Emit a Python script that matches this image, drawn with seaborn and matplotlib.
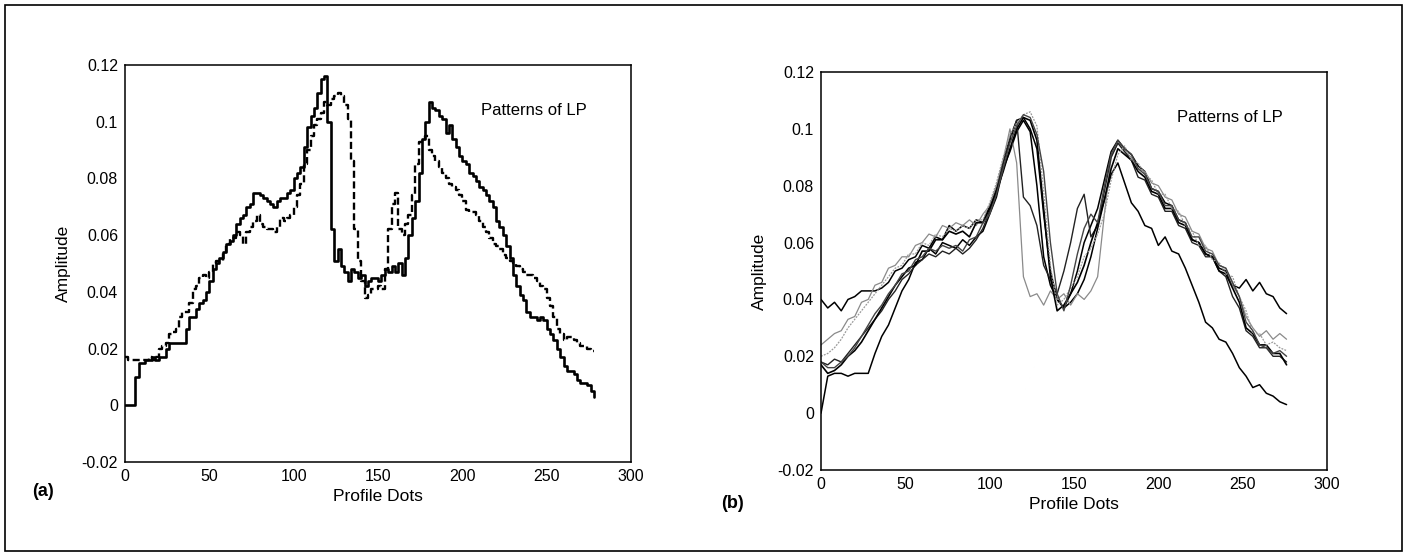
import numpy as np
import pandas as pd
import seaborn as sns
import matplotlib.pyplot as plt
from matplotlib.patches import Rectangle

# profile dot positions (panel a sampled every 2 dots, panel b every 4 dots)
dots_a = np.arange(0, 280, 2)
dots_b = np.arange(0, 280, 4)

# amplitudes, in units of 1e-3
# panel (a): solid pattern
lp_a_solid = [
    0, 0, 0, 10, 15, 15, 16, 16, 17, 16,
    17, 17, 20, 22, 22, 22, 22, 22, 27, 31,
    31, 34, 36, 37, 40, 44, 48, 50, 52, 54,
    57, 58, 60, 64, 66, 67, 70, 71, 75, 75,
    74, 73, 72, 71, 70, 72, 73, 73, 75, 76,
    80, 82, 84, 91, 98, 102, 105, 110, 115, 116,
    100, 62, 51, 55, 49, 47, 44, 48, 47, 45,
    46, 42, 44, 45, 45, 44, 46, 48, 47, 49,
    47, 50, 46, 52, 60, 66, 72, 82, 94, 100,
    107, 105, 104, 102, 101, 96, 99, 94, 91, 88,
    86, 85, 82, 81, 79, 77, 76, 74, 72, 70,
    65, 63, 60, 56, 52, 46, 42, 39, 37, 33,
    31, 31, 30, 31, 30, 27, 25, 23, 20, 17,
    14, 12, 12, 11, 9, 8, 8, 7, 5, 3,
]
# panel (a): dashed pattern
lp_a_dashed = [
    17, 16, 16, 16, 16, 16, 16, 17, 16, 17,
    20, 21, 22, 25, 26, 27, 31, 33, 33, 36,
    41, 42, 45, 46, 45, 47, 50, 51, 51, 54,
    57, 59, 59, 61, 60, 57, 61, 63, 65, 67,
    64, 63, 62, 62, 61, 63, 66, 65, 66, 67,
    70, 74, 78, 85, 90, 95, 99, 101, 103, 107,
    106, 108, 109, 110, 109, 106, 101, 86, 62, 51,
    44, 38, 39, 41, 41, 42, 41, 48, 62, 71,
    75, 62, 60, 64, 67, 74, 85, 93, 94, 95,
    90, 88, 86, 84, 82, 80, 78, 77, 76, 74,
    72, 69, 68, 68, 67, 65, 63, 61, 59, 57,
    56, 55, 53, 52, 51, 50, 49, 48, 47, 46,
    46, 45, 44, 42, 41, 38, 35, 31, 27, 25,
    23, 24, 24, 23, 22, 21, 21, 20, 19, 19,
]

# panel (b): seven patterns
lp_b1 = [
    40, 37, 39, 36, 40, 41, 43, 43, 43, 44,
    46, 50, 51, 54, 55, 59, 58, 62, 61, 66,
    64, 66, 65, 68, 67, 73, 79, 88, 96, 103,
    104, 100, 93, 70, 50, 40, 37, 42, 50, 60,
    66, 72, 82, 92, 96, 93, 91, 87, 85, 79,
    78, 74, 73, 68, 67, 61, 60, 56, 55, 51,
    50, 45, 44, 47, 43, 46, 42, 41, 37, 35,
]
lp_b2 = [
    0, 13, 14, 14, 13, 14, 14, 14, 21, 27,
    31, 37, 43, 47, 53, 54, 58, 56, 60, 59,
    58, 61, 59, 62, 64, 70, 76, 86, 92, 99,
    103, 99, 80, 55, 45, 40, 37, 39, 42, 47,
    55, 65, 75, 84, 88, 81, 74, 71, 66, 65,
    59, 62, 57, 56, 51, 45, 39, 32, 30, 26,
    25, 21, 16, 13, 9, 10, 7, 6, 4, 3,
]
lp_b3 = [
    24, 26, 28, 29, 33, 34, 39, 40, 45, 46,
    51, 52, 55, 55, 59, 60, 63, 62, 66, 65,
    67, 66, 68, 66, 70, 73, 80, 89, 100, 88,
    48, 41, 42, 38, 43, 40, 42, 38, 42, 40,
    43, 48, 70, 90, 95, 92, 90, 86, 85, 81,
    80, 76, 75, 70, 69, 64, 63, 58, 57, 52,
    51, 45, 41, 34, 30, 27, 29, 26, 28, 26,
]
lp_b4 = [
    18, 17, 19, 18, 21, 24, 27, 30, 33, 36,
    40, 43, 47, 49, 52, 54, 56, 55, 57, 56,
    58, 56, 58, 61, 65, 71, 78, 88, 97, 103,
    76, 73, 66, 52, 47, 42, 50, 60, 72, 77,
    62, 66, 78, 90, 95, 92, 89, 83, 82, 77,
    76, 71, 71, 66, 65, 60, 59, 55, 55, 50,
    48, 41, 37, 29, 27, 23, 23, 20, 20, 18,
]
lp_b5 = [
    17, 14, 15, 17, 20, 22, 25, 29, 33, 37,
    41, 45, 48, 51, 52, 57, 57, 61, 61, 64,
    63, 64, 62, 67, 67, 72, 78, 85, 93, 100,
    104, 103, 96, 72, 48, 36, 38, 42, 46, 52,
    60, 67, 75, 86, 93, 91, 89, 85, 83, 78,
    77, 72, 72, 67, 66, 61, 60, 56, 55, 50,
    49, 44, 39, 30, 28, 24, 24, 21, 21, 17,
]
lp_b6 = [
    20, 21, 23, 26, 30, 33, 36, 39, 42, 45,
    48, 51, 52, 56, 56, 60, 59, 63, 62, 65,
    64, 66, 65, 68, 68, 74, 81, 90, 98, 102,
    105, 106, 101, 78, 52, 38, 40, 44, 48, 55,
    58, 63, 70, 82, 91, 94, 89, 88, 84, 82,
    77, 77, 72, 71, 66, 64, 59, 59, 54, 53,
    49, 48, 41, 36, 28, 28, 24, 25, 23, 22,
]
lp_b7 = [
    18, 16, 16, 18, 20, 23, 27, 31, 35, 38,
    42, 45, 49, 50, 54, 55, 58, 57, 59, 58,
    59, 57, 61, 62, 67, 70, 77, 86, 95, 101,
    105, 104, 98, 85, 60, 42, 36, 45, 56, 65,
    70, 67, 80, 91, 96, 93, 91, 86, 84, 79,
    78, 73, 73, 68, 67, 62, 62, 57, 56, 52,
    51, 46, 41, 32, 29, 24, 23, 21, 22, 20,
]

y_ticks = [-0.02, 0, 0.02, 0.04, 0.06, 0.08, 0.1, 0.12]
y_tick_labels = ["-0.02", "0", "0.02", "0.04", "0.06", "0.08", "0.1", "0.12"]
x_ticks = [0, 50, 100, 150, 200, 250, 300]

df_a = pd.DataFrame({
    "dot": dots_a,
    "solid": np.array(lp_a_solid) / 1000,
    "dashed": np.array(lp_a_dashed) / 1000,
})
df_b = pd.DataFrame({"dot": dots_b})
for name, vals in [("b1", lp_b1), ("b2", lp_b2), ("b3", lp_b3), ("b4", lp_b4),
                   ("b5", lp_b5), ("b6", lp_b6), ("b7", lp_b7)]:
    df_b[name] = np.array(vals) / 1000

sns.set_style("white")
plt.rcParams["font.family"] = ["Liberation Sans", "DejaVu Sans"]
plt.rcParams["text.color"] = "black"
plt.rcParams["axes.labelcolor"] = "black"

fig = plt.figure(figsize=(14.08, 5.57), dpi=100)
ax1 = fig.add_axes([0.0888, 0.1706, 0.3594, 0.7127])
ax2 = fig.add_axes([0.5831, 0.1562, 0.3594, 0.7145])

# panel (a)
sns.lineplot(data=df_a, x="dot", y="solid", ax=ax1, color="black", lw=1.9,
             drawstyle="steps-post", estimator=None)
sns.lineplot(data=df_a, x="dot", y="dashed", ax=ax1, color="black", lw=1.7,
             drawstyle="steps-post", estimator=None,
             linestyle=(0, (3, 1.5)))

# panel (b)
styles_b = {
    "b1": dict(color="black", lw=1.1),
    "b2": dict(color="black", lw=1.1),
    "b3": dict(color="#8a8a8a", lw=0.9),
    "b4": dict(color="#222222", lw=1.0),
    "b5": dict(color="black", lw=1.2),
    "b6": dict(color="#9a9a9a", lw=0.9, linestyle=(0, (1.5, 1))),
    "b7": dict(color="#444444", lw=1.0),
}
for name, st in styles_b.items():
    sns.lineplot(data=df_b, x="dot", y=name, ax=ax2, estimator=None, **st)

for ax in (ax1, ax2):
    ax.set_xlim(0, 300)
    ax.set_ylim(-0.02, 0.12)
    ax.set_xticks(x_ticks)
    ax.set_xticklabels([str(t) for t in x_ticks])
    ax.set_yticks(y_ticks)
    ax.set_yticklabels(y_tick_labels)
    ax.tick_params(direction="in", length=5, width=1, labelsize=11.5,
                   colors="black", pad=5, top=False, right=False)
    for sp in ax.spines.values():
        sp.set_color("black")
        sp.set_linewidth(1.1)
    ax.set_xlabel("Profile Dots", fontsize=12.5, labelpad=4)
    ax.set_ylabel("Amplitude", fontsize=12.5, labelpad=8)
    ax.text(211, 0.104, "Patterns of LP", fontsize=12, ha="left", va="center")

fig.text(43 / 1408, 1 - 492 / 557, "(a)", fontsize=13, fontweight="bold",
         ha="center", va="center")
fig.text(733 / 1408, 1 - 503 / 557, "(b)", fontsize=13, fontweight="bold",
         ha="center", va="center")

# outer frame of the figure
fig.add_artist(Rectangle((5 / 1408, 6 / 557), 1397 / 1408, 546 / 557,
                         transform=fig.transFigure, fill=False,
                         edgecolor="black", lw=1.2))

fig.savefig("out.png", dpi=100, facecolor="white")
